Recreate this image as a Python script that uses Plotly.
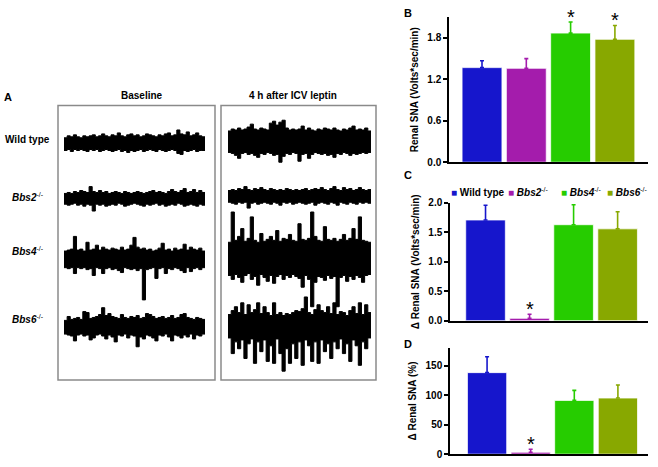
import plotly.graph_objects as go

W, H = 658, 467
FONT = "Liberation Sans, Arial, sans-serif"

# ---------------- data ----------------
groups = ["Wild type", "Bbs2-/-", "Bbs4-/-", "Bbs6-/-"]
group_labels = ["<b>Wild type</b>", "<b><i>Bbs2</i></b><sup>-/-</sup>",
                "<b><i>Bbs4</i></b><sup>-/-</sup>", "<b><i>Bbs6</i></b><sup>-/-</sup>"]
colors = ["#1616CC", "#A41CAC", "#26CC00", "#88A800"]

renal_sna = [1.37, 1.36, 1.87, 1.78]
renal_sna_err = [0.10, 0.14, 0.16, 0.20]
renal_sna_sig = [False, False, True, True]

d_renal_sna = [1.71, 0.04, 1.63, 1.56]
d_renal_sna_err = [0.25, 0.07, 0.34, 0.29]
d_renal_sna_sig = [False, True, False, False]

d_renal_pct = [138, 3.3, 91, 95]
d_renal_pct_err = [27, 5, 17, 22]
d_renal_pct_sig = [False, True, False, False]

ticks_B = [0.0, 0.6, 1.2, 1.8]
ticks_C = [0.0, 0.5, 1.0, 1.5, 2.0]
ticks_D = [0, 50, 100, 150]

conditions = ["Baseline", "4 h after ICV leptin"]

# nerve recording envelopes (upper / lower, arbitrary units)
base_upper = [
    [5,7,6,8,6,5,7,6,7,8,6,7,9,7,6,8,7,10,7,6,8,9,7,8,6,7,9,8,7,6,8,7,9,10,7,8,13,9,8,11,7,8,10,7,6],
    [5,6,5,7,6,8,7,6,12,7,6,8,6,7,5,6,7,6,5,7,6,5,6,7,6,5,6,7,8,6,7,6,5,7,9,7,6,8,10,6,7,9,6,8,6],
    [8,9,10,23,9,10,8,17,9,10,14,9,12,10,9,11,10,9,12,9,10,14,22,12,10,11,9,10,8,9,11,16,9,10,8,11,9,10,15,9,12,10,9,11,8],
    [6,10,7,8,9,7,15,14,8,9,10,12,19,11,13,10,9,8,12,9,8,10,9,11,8,9,13,12,10,8,9,10,8,9,11,8,9,12,13,9,8,7,9,8,7],
]
base_lower = [
    [-8,-7,-9,-7,-8,-7,-8,-9,-7,-8,-7,-9,-8,-7,-8,-9,-8,-7,-9,-8,-10,-8,-9,-8,-7,-9,-8,-7,-8,-9,-7,-8,-9,-8,-7,-8,-11,-12,-8,-9,-8,-7,-9,-8,-8],
    [-6,-7,-6,-5,-7,-6,-8,-6,-7,-13,-6,-7,-6,-8,-7,-6,-7,-5,-6,-8,-7,-6,-5,-6,-7,-8,-6,-7,-6,-5,-7,-6,-8,-7,-6,-7,-5,-6,-8,-7,-6,-7,-8,-6,-7],
    [-9,-10,-9,-15,-9,-10,-9,-11,-10,-17,-9,-10,-15,-10,-9,-11,-10,-12,-14,-9,-10,-11,-10,-12,-10,-42,-11,-10,-9,-20,-10,-9,-15,-10,-11,-9,-10,-12,-14,-9,-13,-10,-9,-11,-9],
    [-8,-9,-10,-15,-9,-8,-10,-9,-14,-12,-9,-8,-10,-13,-9,-11,-16,-9,-10,-8,-12,-9,-10,-21,-11,-13,-9,-10,-12,-15,-9,-10,-8,-11,-15,-9,-10,-12,-9,-11,-8,-13,-9,-10,-8],
]
lep_upper = [
    [11,13,12,14,12,13,15,18,13,12,14,13,12,19,21,17,20,22,14,12,13,12,13,16,12,14,12,11,13,12,14,13,12,14,12,11,13,12,14,16,12,13,12,14,11],
    [6,7,6,8,7,10,7,6,8,7,9,7,6,8,7,6,7,6,8,7,6,7,6,7,8,6,7,8,7,9,7,6,8,10,7,6,9,7,8,6,7,9,7,6,7],
    [16,47,18,22,30,17,20,42,18,16,25,17,19,22,18,28,17,20,19,24,18,17,35,19,18,20,47,22,18,17,32,19,18,20,17,19,24,18,20,30,19,42,18,17,16],
    [10,14,18,12,22,10,20,12,15,22,11,18,12,9,22,10,12,9,11,10,12,14,13,16,28,12,10,15,20,14,12,18,11,22,10,13,12,9,14,18,11,22,10,20,12],
]
lep_lower = [
    [-11,-12,-14,-17,-12,-11,-13,-12,-14,-16,-12,-13,-11,-12,-14,-13,-21,-15,-12,-13,-11,-12,-20,-13,-12,-17,-13,-11,-12,-13,-12,-14,-13,-16,-12,-13,-11,-12,-14,-12,-13,-12,-11,-12,-11],
    [-6,-7,-8,-6,-7,-6,-12,-7,-6,-8,-7,-6,-7,-8,-6,-7,-9,-6,-7,-6,-8,-7,-6,-7,-8,-7,-6,-9,-7,-6,-7,-8,-6,-7,-9,-6,-7,-8,-6,-7,-8,-6,-7,-6,-7],
    [-18,-22,-17,-20,-25,-18,-16,-22,-19,-28,-17,-20,-24,-18,-26,-19,-17,-22,-18,-20,-17,-19,-21,-30,-18,-22,-50,-25,-19,-20,-23,-18,-21,-19,-50,-20,-18,-24,-19,-22,-18,-20,-25,-18,-17],
    [-14,-30,-18,-25,-16,-35,-20,-15,-40,-18,-28,-16,-38,-22,-40,-15,-30,-48,-25,-40,-20,-35,-18,-42,-16,-22,-38,-18,-40,-16,-28,-20,-35,-18,-25,-15,-30,-20,-38,-16,-22,-42,-18,-25,-14],
]

# ---------------- helpers ----------------
def px(x):
    return x / W

def py(y):
    return 1 - y / H

fig = go.Figure()
layout = dict(
    width=W, height=H, margin=dict(l=0, r=0, t=0, b=0),
    paper_bgcolor="white", plot_bgcolor="rgba(0,0,0,0)",
    showlegend=False, font=dict(family=FONT, color="black", size=10),
)
annotations = []
shapes = []

# ---------------- bar panels ----------------
panels = [
    dict(vals=renal_sna, errs=renal_sna_err, sig=renal_sna_sig, ticks=ticks_B, fmt="{:.1f}",
         yr=[0, 2.1], ypx=(161, 12.5), xpx=(449, 648), xr=[-0.745, 3.747],
         title="Renal SNA (Volts*sec/min)", letter="B", letter_y=8),
    dict(vals=d_renal_sna, errs=d_renal_sna_err, sig=d_renal_sna_sig, ticks=ticks_C, fmt="{:.1f}",
         yr=[0, 2.0], ypx=(323.3, 202.7), xpx=(450, 648), xr=[-0.807, 3.69],
         title="\u0394 Renal SNA (Volts*sec/min)", letter="C", letter_y=174),
    dict(vals=d_renal_pct, errs=d_renal_pct_err, sig=d_renal_pct_sig, ticks=ticks_D, fmt="{:d}",
         yr=[0, 180], ypx=(460, 351.1), xpx=(450, 648), xr=[-0.85, 3.69],
         title="\u0394 Renal SNA (%)", letter="D", letter_y=347),
]

for k, p in enumerate(panels, start=1):
    xa = "x" if k == 1 else f"x{k}"
    ya = "y" if k == 1 else f"y{k}"
    for i, g in enumerate(groups):
        fig.add_trace(go.Bar(
            x=[i], y=[p["vals"][i]], width=0.9, name=g,
            marker=dict(color=colors[i], line=dict(color="rgba(255,255,255,0.75)", width=1)),
            error_y=dict(type="data", array=[p["errs"][i]], arrayminus=[0], symmetric=False,
                         color=colors[i], thickness=1.6, width=2),
            xaxis=xa, yaxis=ya, showlegend=False,
        ))
        if p["sig"][i]:
            annotations.append(dict(x=i, y=p["vals"][i] + p["errs"][i], xref=xa, yref=ya,
                                    text="*", showarrow=False, yanchor="bottom", yshift=-8,
                                    font=dict(size=20, color="black", family=FONT)))
    layout["xaxis" if k == 1 else f"xaxis{k}"] = dict(
        domain=[px(p["xpx"][0]), px(p["xpx"][1])], range=p["xr"], anchor=ya,
        showline=True, linecolor="black", linewidth=2, showticklabels=False,
        ticks="", showgrid=False, zeroline=False, fixedrange=True)
    layout["yaxis" if k == 1 else f"yaxis{k}"] = dict(
        domain=[py(p["ypx"][0]), py(p["ypx"][1])], range=p["yr"], anchor=xa,
        showline=True, linecolor="black", linewidth=1.5, ticks="outside", ticklen=4,
        tickwidth=1.5, tickcolor="black", tickvals=p["ticks"],
        ticktext=[p["fmt"].format(t) for t in p["ticks"]],
        tickfont=dict(family=FONT, size=10, color="black", weight="bold"),
        showgrid=False, zeroline=False, fixedrange=True,
        title=dict(text=p["title"], standoff=7,
                   font=dict(family=FONT, size=10, color="black", weight="bold")))
    annotations.append(dict(x=px(408), y=py(p["letter_y"]), xref="paper", yref="paper",
                            xanchor="center", yanchor="middle",
                            text=f"<b>{p['letter']}</b>", showarrow=False,
                            font=dict(size=11, family=FONT)))

# manual legend for panel C
legend_x = [449, 506, 559, 605]
for i, g in enumerate(groups):
    annotations.append(dict(
        x=px(legend_x[i]), y=py(192), xref="paper", yref="paper", xanchor="left",
        yanchor="middle",
        text=f'<span style="color:{colors[i]}">\u25A0</span> {group_labels[i]}',
        showarrow=False, font=dict(size=10, family=FONT, color="black")))

# ---------------- panel A: recordings ----------------
col_px = [(64, 205), (228, 371)]
row_center_px = [[141, 198, 260, 329], [140, 196, 259, 327]]
half = 55
envelopes = [(base_upper, base_lower), (lep_upper, lep_lower)]
ax_n = 4
for c in range(2):
    ups, lows = envelopes[c]
    for r in range(4):
        xa, ya = f"x{ax_n}", f"y{ax_n}"
        n = len(ups[r])
        xs = list(range(n + 1))
        up = ups[r] + [ups[r][-1]]
        lo = lows[r] + [lows[r][-1]]
        fig.add_trace(go.Scatter(x=xs, y=up, mode="lines",
                                 line=dict(color="black", width=1, shape="hv"),
                                 xaxis=xa, yaxis=ya, hoverinfo="skip"))
        fig.add_trace(go.Scatter(x=xs, y=lo, mode="lines",
                                 line=dict(color="black", width=1, shape="hv"),
                                 fill="tonexty", fillcolor="black",
                                 xaxis=xa, yaxis=ya, hoverinfo="skip"))
        cy = row_center_px[c][r]
        layout[f"xaxis{ax_n}"] = dict(domain=[px(col_px[c][0]), px(col_px[c][1])], range=[0, n],
                                      anchor=ya, visible=False, fixedrange=True)
        layout[f"yaxis{ax_n}"] = dict(domain=[py(cy + half), py(cy - half)], range=[-half, half],
                                      anchor=xa, visible=False, fixedrange=True)
        ax_n += 1

# boxes
for (x0, x1) in [(58, 215), (221, 376)]:
    shapes.append(dict(type="rect", xref="paper", yref="paper", x0=px(x0), x1=px(x1),
                       y0=py(384), y1=py(103), line=dict(color="#8a8a8a", width=1.5)))

annotations.append(dict(x=px(8), y=py(94), xref="paper", yref="paper", text="<b>A</b>",
                        xanchor="center", yanchor="middle",
                        showarrow=False, font=dict(size=11, family=FONT)))
for cx, t in zip([141.5, 292.5], conditions):
    annotations.append(dict(x=px(cx), y=py(93), xref="paper", yref="paper", text=f"<b>{t}</b>",
                            xanchor="center", yanchor="middle",
                            showarrow=False, font=dict(size=10, family=FONT)))
row_label_y = [138, 197, 252, 322]
for lab, yy in zip(group_labels, row_label_y):
    annotations.append(dict(x=px(27.5), y=py(yy), xref="paper", yref="paper", text=lab,
                            xanchor="center", yanchor="middle",
                            showarrow=False, font=dict(size=10, family=FONT)))

layout["annotations"] = annotations
layout["shapes"] = shapes
fig.update_layout(**layout)
fig.write_html("out.html", config={"displayModeBar": False},
               post_script="document.body.style.margin='0';")
